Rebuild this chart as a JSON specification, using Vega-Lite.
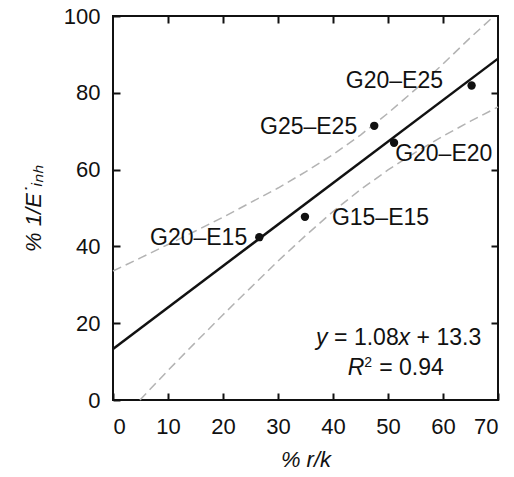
{
  "$schema": "https://vega.github.io/schema/vega-lite/v6.json",
  "width": 385,
  "height": 384,
  "autosize": {"type": "none"},
  "padding": {"left": 113, "top": 16, "right": 16, "bottom": 77},
  "background": "white",
  "config": {
    "view": {"stroke": "#111", "strokeWidth": 2},
    "axis": {
      "domain": false, "grid": false, "ticks": true, "tickColor": "#111", "tickWidth": 2, "tickSize": -7,
      "labelFont": "Liberation Sans", "labelFontSize": 22, "labelColor": "#111",
      "titleFont": "Liberation Sans", "titleFontSize": 22, "titleFontWeight": "normal", "titleFontStyle": "italic", "titleColor": "#111"
    },
    "text": {"font": "Liberation Sans", "fontSize": 23, "fill": "#111"}
  },
  "datasets": {
    "points": [
      {"name": "G20–E15", "rk": 26.6, "inh": 42.4},
      {"name": "G15–E15", "rk": 34.9, "inh": 47.7},
      {"name": "G25–E25", "rk": 47.5, "inh": 71.4},
      {"name": "G20–E20", "rk": 51.1, "inh": 67.0},
      {"name": "G20–E25", "rk": 65.2, "inh": 81.9}
    ],
    "fit": [{"rk": 0, "inh": 13.3}, {"rk": 70, "inh": 88.9}],
    "upper": [
      {"rk": 0, "inh": 33.6}, {"rk": 5, "inh": 37.0}, {"rk": 10, "inh": 40.5}, {"rk": 15, "inh": 44.0},
      {"rk": 20, "inh": 47.6}, {"rk": 25, "inh": 51.4}, {"rk": 30, "inh": 55.2}, {"rk": 35, "inh": 59.4},
      {"rk": 40, "inh": 63.9}, {"rk": 45, "inh": 69.0}, {"rk": 50, "inh": 74.7}, {"rk": 55, "inh": 80.9},
      {"rk": 60, "inh": 87.5}, {"rk": 65, "inh": 94.4}, {"rk": 69.3, "inh": 100}
    ],
    "lower": [
      {"rk": 4.9, "inh": 0}, {"rk": 10, "inh": 7.7}, {"rk": 15, "inh": 15.0}, {"rk": 20, "inh": 22.2},
      {"rk": 25, "inh": 29.2}, {"rk": 30, "inh": 36.2}, {"rk": 35, "inh": 42.8}, {"rk": 40, "inh": 49.1},
      {"rk": 45, "inh": 54.8}, {"rk": 50, "inh": 59.9}, {"rk": 55, "inh": 64.5}, {"rk": 60, "inh": 68.7},
      {"rk": 65, "inh": 72.6}, {"rk": 70, "inh": 76.3}
    ],
    "labelsRight": [
      {"name": "G20–E15", "lx": 24.4, "ly": 42.2},
      {"name": "G25–E25", "lx": 44.4, "ly": 71.1},
      {"name": "G20–E25", "lx": 60.0, "ly": 83.1}
    ],
    "labelsLeft": [
      {"name": "G15–E15", "lx": 39.8, "ly": 47.4},
      {"name": "G20–E20", "lx": 51.3, "ly": 64.1}
    ],
    "eqItalic": [
      {"t": "y", "ax": 36.9, "ay": 14.3},
      {"t": "x", "ax": 51.9, "ay": 14.3},
      {"t": "R", "ax": 42.7, "ay": 6.5}
    ],
    "eqNormal": [
      {"t": "= 1.08", "ax": 40.2, "ay": 14.3},
      {"t": "+ 13.3", "ax": 55.2, "ay": 14.3},
      {"t": "= 0.94", "ax": 48.4, "ay": 6.5}
    ],
    "eqSup": [
      {"t": "2", "ax": 45.7, "ay": 8.6}
    ]
  },
  "layer": [
    {
      "data": {"name": "upper"},
      "mark": {"type": "line", "color": "#b3b3b3", "strokeWidth": 1.5, "strokeDash": [9, 5]},
      "encoding": {
        "x": {"field": "rk", "type": "quantitative", "scale": {"domain": [0, 70], "nice": false},
              "axis": {"orient": "bottom", "values": [0, 10, 20, 30, 40, 50, 60, 70], "title": "% r/k", "labelPadding": 23, "titlePadding": 12}},
        "y": {"field": "inh", "type": "quantitative", "scale": {"domain": [0, 100], "nice": false},
              "axis": {"orient": "left", "values": [0, 20, 40, 60, 80, 100], "title": "% 1/E˙ᵢₙₕ", "labelPadding": 20, "titlePadding": 18}}
      }
    },
    {
      "data": {"name": "lower"},
      "mark": {"type": "line", "color": "#b3b3b3", "strokeWidth": 1.5, "strokeDash": [9, 5]},
      "encoding": {
        "x": {"field": "rk", "type": "quantitative", "axis": null},
        "y": {"field": "inh", "type": "quantitative", "axis": null}
      }
    },
    {
      "data": {"name": "fit"},
      "mark": {"type": "line", "color": "#111", "strokeWidth": 2.5},
      "encoding": {
        "x": {"field": "rk", "type": "quantitative", "axis": {"orient": "top", "values": [10, 20, 30, 40, 50, 60], "labels": false, "title": null}},
        "y": {"field": "inh", "type": "quantitative", "axis": {"orient": "right", "values": [20, 40, 60, 80], "labels": false, "title": null}}
      }
    },
    {
      "data": {"name": "points"},
      "mark": {"type": "point", "filled": true, "color": "#111", "size": 70, "opacity": 1},
      "encoding": {
        "x": {"field": "rk", "type": "quantitative", "axis": null},
        "y": {"field": "inh", "type": "quantitative", "axis": null}
      }
    },
    {
      "data": {"name": "labelsRight"},
      "mark": {"type": "text", "align": "right", "baseline": "middle"},
      "encoding": {
        "x": {"field": "lx", "type": "quantitative", "axis": null},
        "y": {"field": "ly", "type": "quantitative", "axis": null},
        "text": {"field": "name"}
      }
    },
    {
      "data": {"name": "labelsLeft"},
      "mark": {"type": "text", "align": "left", "baseline": "middle"},
      "encoding": {
        "x": {"field": "lx", "type": "quantitative", "axis": null},
        "y": {"field": "ly", "type": "quantitative", "axis": null},
        "text": {"field": "name"}
      }
    },
    {
      "data": {"name": "eqItalic"},
      "mark": {"type": "text", "align": "left", "baseline": "alphabetic", "fontStyle": "italic"},
      "encoding": {
        "x": {"field": "ax", "type": "quantitative", "axis": null},
        "y": {"field": "ay", "type": "quantitative", "axis": null},
        "text": {"field": "t"}
      }
    },
    {
      "data": {"name": "eqNormal"},
      "mark": {"type": "text", "align": "left", "baseline": "alphabetic"},
      "encoding": {
        "x": {"field": "ax", "type": "quantitative", "axis": null},
        "y": {"field": "ay", "type": "quantitative", "axis": null},
        "text": {"field": "t"}
      }
    },
    {
      "data": {"name": "eqSup"},
      "mark": {"type": "text", "align": "left", "baseline": "alphabetic", "fontSize": 14},
      "encoding": {
        "x": {"field": "ax", "type": "quantitative", "axis": null},
        "y": {"field": "ay", "type": "quantitative", "axis": null},
        "text": {"field": "t"}
      }
    }
  ],
  "resolve": {"axis": {"x": "independent", "y": "independent"}}
}
